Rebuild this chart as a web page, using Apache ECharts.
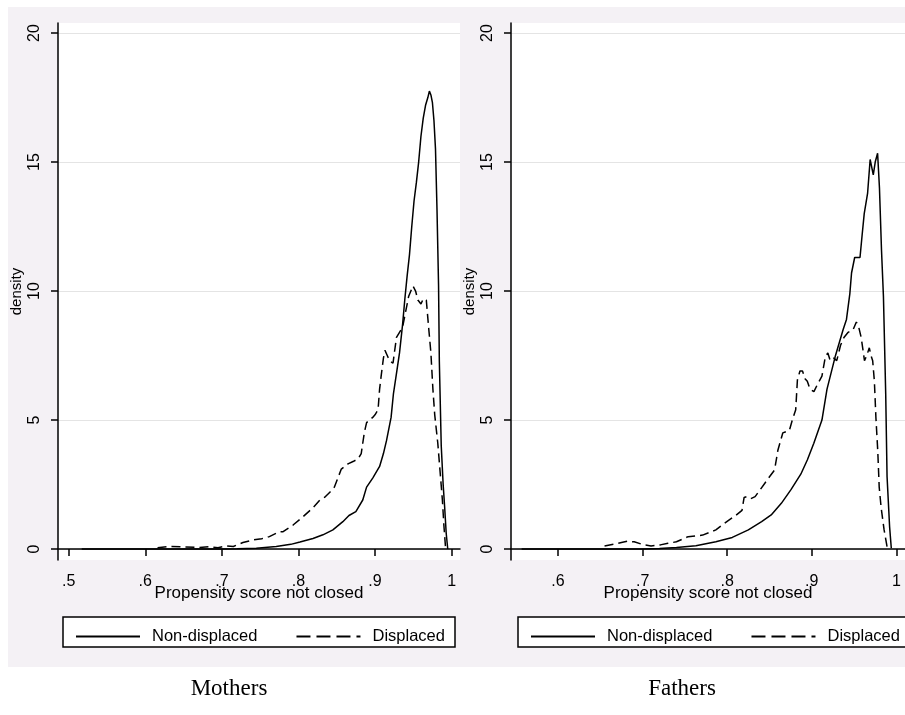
<!DOCTYPE html>
<html>
<head>
<meta charset="utf-8">
<script src="https://cdn.jsdelivr.net/npm/echarts@6/dist/echarts.min.js"></script>
<style>
html, body { margin: 0; padding: 0; background: #fff; }
#chartBox { width: 905px; height: 715px; }
</style>
</head>
<body>
<div id="chartBox"></div>
<script>
// 数据
var seriesNames = ['Non-displaced', 'Displaced'];
var panelNames = ['Mothers', 'Fathers'];
var yTicks = [0, 5, 10, 15, 20];
var xTicksMothers = [0.5, 0.6, 0.7, 0.8, 0.9, 1];
var xTicksFathers = [0.6, 0.7, 0.8, 0.9, 1];

// [propensity score, density]
var mothersNonDisplaced = [
    [0.517, 0], [0.60, 0], [0.70, 0], [0.72, 0.01], [0.745, 0.03], [0.771, 0.1], [0.79, 0.18],
    [0.802, 0.27], [0.819, 0.41], [0.832, 0.55], [0.845, 0.74], [0.858, 1.06], [0.866, 1.3],
    [0.875, 1.45], [0.884, 1.9], [0.889, 2.4], [0.897, 2.75], [0.906, 3.2], [0.911, 3.7],
    [0.915, 4.2], [0.921, 5.1], [0.924, 6.0], [0.928, 6.8], [0.932, 7.6], [0.936, 8.7],
    [0.939, 9.7], [0.942, 10.6], [0.945, 11.4], [0.948, 12.5], [0.951, 13.5], [0.954, 14.2],
    [0.957, 15.0], [0.960, 16.0], [0.963, 16.7], [0.966, 17.2], [0.969, 17.5], [0.971, 17.75],
    [0.973, 17.6], [0.975, 17.3], [0.977, 16.6], [0.979, 15.5], [0.981, 13.1], [0.983, 10.2],
    [0.984, 7.3], [0.9865, 4.0], [0.989, 2.5], [0.991, 1.6], [0.993, 0.6], [0.995, 0]
];
var mothersDisplaced = [
    [0.616, 0.05], [0.63, 0.1], [0.65, 0.08], [0.67, 0.06], [0.684, 0.09], [0.695, 0.05],
    [0.706, 0.12], [0.715, 0.1], [0.7275, 0.25], [0.7405, 0.35], [0.752, 0.4], [0.762, 0.48],
    [0.775, 0.67], [0.78, 0.67], [0.793, 0.93], [0.806, 1.25], [0.819, 1.6], [0.828, 1.9],
    [0.834, 2.0], [0.841, 2.2], [0.847, 2.4], [0.856, 3.1], [0.8647, 3.3], [0.872, 3.4],
    [0.878, 3.5], [0.882, 3.7], [0.886, 4.5], [0.889, 4.9], [0.893, 5.0], [0.897, 5.1],
    [0.900, 5.2], [0.904, 5.4], [0.906, 6.2], [0.908, 6.7], [0.911, 7.4], [0.913, 7.7],
    [0.916, 7.5], [0.919, 7.3], [0.9235, 7.2], [0.928, 8.2], [0.932, 8.4], [0.936, 8.6],
    [0.940, 9.2], [0.944, 9.8], [0.9495, 10.2], [0.953, 10.0], [0.956, 9.65], [0.960, 9.5],
    [0.963, 9.7], [0.967, 9.65], [0.970, 8.6], [0.973, 7.6], [0.9756, 6.2], [0.978, 5.2],
    [0.982, 4.1], [0.985, 3.0], [0.988, 1.9], [0.990, 0.9], [0.992, 0.1]
];
var fathersNonDisplaced = [
    [0.557, 0], [0.65, 0], [0.70, 0], [0.72, 0.02], [0.740, 0.06], [0.763, 0.13], [0.7866, 0.28],
    [0.806, 0.45], [0.825, 0.74], [0.8407, 1.06], [0.852, 1.32], [0.864, 1.77], [0.8754, 2.3],
    [0.887, 2.9], [0.8947, 3.45], [0.9024, 4.1], [0.912, 5.0], [0.918, 6.2], [0.9276, 7.45],
    [0.937, 8.5], [0.941, 8.9], [0.945, 9.9], [0.947, 10.7], [0.9507, 11.3], [0.957, 11.3],
    [0.9596, 12.2], [0.962, 13.0], [0.966, 13.8], [0.969, 15.1], [0.9727, 14.5], [0.975, 15.0],
    [0.9778, 15.34], [0.980, 14.0], [0.9824, 11.6], [0.9847, 9.8], [0.9874, 6.0], [0.989, 2.8],
    [0.992, 0.86], [0.994, 0.03]
];
var fathersDisplaced = [
    [0.655, 0.12], [0.668, 0.2], [0.675, 0.25], [0.682, 0.3], [0.69, 0.28], [0.7016, 0.16],
    [0.71, 0.12], [0.721, 0.16], [0.73, 0.22], [0.740, 0.28], [0.7538, 0.48], [0.762, 0.5],
    [0.771, 0.54], [0.7866, 0.74], [0.795, 0.95], [0.802, 1.12], [0.81, 1.3], [0.8175, 1.5],
    [0.82, 2.0], [0.823, 2.03], [0.828, 1.95], [0.833, 2.03], [0.839, 2.3], [0.8445, 2.55],
    [0.85, 2.8], [0.856, 3.06], [0.86, 3.84], [0.8657, 4.5], [0.8735, 4.6], [0.877, 5.0],
    [0.881, 5.4], [0.883, 6.55], [0.886, 6.9], [0.889, 6.9], [0.892, 6.6], [0.8947, 6.5],
    [0.898, 6.2], [0.9025, 6.1], [0.907, 6.4], [0.912, 6.7], [0.916, 7.45], [0.919, 7.6],
    [0.9218, 7.3], [0.926, 7.4], [0.9295, 7.3], [0.934, 7.9], [0.938, 8.2], [0.943, 8.4],
    [0.9488, 8.5], [0.9527, 8.8], [0.9555, 8.6], [0.9584, 8.2], [0.9623, 7.3], [0.965, 7.5],
    [0.968, 7.8], [0.970, 7.5], [0.972, 7.3], [0.974, 6.5], [0.9758, 5.1], [0.978, 3.8],
    [0.9797, 2.4], [0.982, 1.6], [0.9855, 0.74], [0.989, 0.09]
];

var FONT = '"Liberation Sans", Arial, sans-serif';

function tickText(v) {
    if (v === 1) return '1';
    return String(Math.round(v * 10) / 10).replace(/^0\./, '.');
}

function makeX(idx, min, max, ticks) {
    return {
        type: 'value', gridIndex: idx, min: min, max: max,
        name: 'Propensity score not closed', nameLocation: 'middle', nameGap: 25,
        nameMoveOverlap: false,
        nameTextStyle: {fontFamily: FONT, fontSize: 17, color: '#000'},
        axisLine: {lineStyle: {color: '#000', width: 1.5}},
        axisTick: {length: 7, lineStyle: {color: '#000', width: 1.5}, customValues: ticks},
        axisLabel: {fontFamily: FONT, fontSize: 16, color: '#000', margin: 14,
            customValues: ticks, formatter: tickText},
        splitLine: {show: false}
    };
}

function makeY(idx) {
    return {
        type: 'value', gridIndex: idx, min: -0.426, max: 20.39,
        name: 'density', nameLocation: 'middle', nameGap: 34, nameRotate: 90,
        nameMoveOverlap: false,
        nameTextStyle: {fontFamily: FONT, fontSize: 15, color: '#000'},
        axisLine: {show: true, lineStyle: {color: '#000', width: 1.5}},
        axisTick: {show: true, length: 7, lineStyle: {color: '#000', width: 1.5}, customValues: yTicks},
        axisLabel: {fontFamily: FONT, fontSize: 16, color: '#000', rotate: 90, margin: 15,
            customValues: yTicks,
            formatter: function (v) { return yTicks.indexOf(v) >= 0 ? String(v) : ''; }},
        splitLine: {show: true, lineStyle: {color: '#e4e4e4', width: 1}}
    };
}

function makeSeries(name, idx, data, dashed) {
    return {
        name: name, type: 'line', xAxisIndex: idx, yAxisIndex: idx,
        data: data, symbol: 'none', showSymbol: false, clip: true,
        lineStyle: {color: '#000', width: 1.5, type: dashed ? [9, 5] : 'solid'},
        itemStyle: {color: '#000'}
    };
}

function makeLegend(left) {
    return {
        left: left, top: 623, orient: 'horizontal',
        itemWidth: 64, itemHeight: 14, itemGap: 38, selectedMode: false,
        itemStyle: {opacity: 0, color: 'transparent', borderWidth: 0},
        data: [
            {name: seriesNames[0]},
            {name: seriesNames[1], lineStyle: {type: [14, 6]}}
        ],
        textStyle: {fontFamily: FONT, fontSize: 16.5, color: '#000', padding: [0, 0, 0, 7]}
    };
}

function drawChart() {
    var myChart = echarts.init(document.getElementById('chartBox'));
    var option = {
        animation: false,
        backgroundColor: '#fff',
        grid: [
            {left: 58, top: 23, width: 402, height: 537, show: true, backgroundColor: '#fff', borderWidth: 0},
            {left: 511, top: 23, width: 402, height: 537, show: true, backgroundColor: '#fff', borderWidth: 0}
        ],
        xAxis: [makeX(0, 0.486, 1.011, xTicksMothers), makeX(1, 0.5444, 1.0102, xTicksFathers)],
        yAxis: [makeY(0), makeY(1)],
        legend: [makeLegend(70), makeLegend(525)],
        series: [
            makeSeries(seriesNames[0], 0, mothersNonDisplaced, false),
            makeSeries(seriesNames[1], 0, mothersDisplaced, true),
            makeSeries(seriesNames[0], 1, fathersNonDisplaced, false),
            makeSeries(seriesNames[1], 1, fathersDisplaced, true)
        ],
        graphic: [
            {type: 'rect', z: -10, silent: true, shape: {x: 8, y: 7, width: 897, height: 660}, style: {fill: '#f4f1f5'}},
            {type: 'rect', z: 1, silent: true, shape: {x: 63, y: 617, width: 392, height: 30}, style: {fill: '#fff', stroke: '#000', lineWidth: 1.5}},
            {type: 'rect', z: 1, silent: true, shape: {x: 518, y: 617, width: 400, height: 30}, style: {fill: '#fff', stroke: '#000', lineWidth: 1.5}},
            {type: 'text', z: 1, silent: true, x: 229, y: 689, style: {text: panelNames[0], font: '23px "Liberation Serif", "Times New Roman", serif', fill: '#000', textAlign: 'center', textVerticalAlign: 'middle'}},
            {type: 'text', z: 1, silent: true, x: 682, y: 689, style: {text: panelNames[1], font: '23px "Liberation Serif", "Times New Roman", serif', fill: '#000', textAlign: 'center', textVerticalAlign: 'middle'}}
        ]
    };
    myChart.setOption(option);
}

drawChart();
</script>
</body>
</html>
